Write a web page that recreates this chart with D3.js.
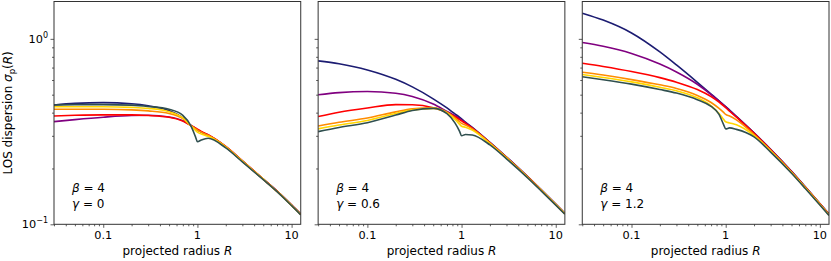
<!DOCTYPE html>
<html>
<head>
<meta charset="utf-8">
<script src="https://cdn.jsdelivr.net/npm/d3@7"></script>
<style>
body{margin:0;background:#fff}
svg{display:block}
text{font-family:"DejaVu Sans",sans-serif}
</style>
</head>
<body>
<svg width="831" height="261"></svg>
<script>
// sample radii shared by all curves
const radii = [0.03,0.05,0.1,0.2,0.3,0.5,0.7,0.85,0.95,1,1.1,1.3,2,3,5,7,10,12.5];

const gammaLabels = ['0','0.6','1.2'];
const betaLabel = '4';

// gamma = 0
const g0Navy   = [0.440,0.449,0.453,0.447,0.436,0.410,0.375,0.340,0.327,0.322,0.314,0.302,0.261,0.219,0.175,0.151,0.127,0.1135];
const g0Purple = [0.358,0.367,0.378,0.386,0.387,0.379,0.362,0.342,0.330,0.324,0.315,0.303,0.262,0.220,0.175,0.151,0.127,0.1135];
const g0Red    = [0.384,0.387,0.389,0.389,0.386,0.378,0.360,0.341,0.331,0.326,0.317,0.304,0.263,0.220,0.1755,0.151,0.127,0.1135];
const g0Orange = [0.417,0.417,0.417,0.414,0.409,0.396,0.371,0.341,0.328,0.322,0.314,0.302,0.262,0.219,0.175,0.1505,0.1265,0.113];
const g0Gold   = [0.430,0.430,0.430,0.427,0.422,0.405,0.375,0.340,0.322,0.314,0.307,0.298,0.261,0.219,0.175,0.1505,0.1265,0.113];
const g0Slate  = [0.440,0.442,0.442,0.439,0.432,0.417,0.387,0.340,0.298,0.279,0.285,0.291,0.258,0.217,0.174,0.150,0.126,0.1125];

// gamma = 0.6
const g1Navy   = [0.761,0.734,0.680,0.605,0.551,0.475,0.424,0.394,0.378,0.370,0.356,0.333,0.2765,0.2304,0.1813,0.1537,0.1285,0.1147];
const g1Purple = [0.499,0.513,0.520,0.509,0.489,0.445,0.406,0.385,0.372,0.366,0.353,0.331,0.2755,0.2298,0.181,0.1534,0.1283,0.1145];
const g1Red    = [0.381,0.402,0.424,0.442,0.441,0.425,0.401,0.380,0.367,0.361,0.350,0.330,0.275,0.2293,0.1806,0.1531,0.128,0.1143];
const g1Orange = [0.339,0.355,0.374,0.404,0.419,0.425,0.402,0.375,0.358,0.350,0.343,0.327,0.274,0.2288,0.1803,0.1528,0.1278,0.1141];
const g1Gold   = [0.327,0.343,0.363,0.396,0.414,0.422,0.398,0.368,0.347,0.338,0.334,0.322,0.2725,0.228,0.180,0.1525,0.1276,0.1139];
const g1Slate  = [0.316,0.333,0.353,0.388,0.411,0.422,0.395,0.352,0.318,0.300,0.305,0.303,0.268,0.2255,0.1785,0.1515,0.1268,0.1133];

// gamma = 1.2
const g2Navy   = [1.376,1.262,1.076,0.850,0.723,0.583,0.504,0.4633,0.4411,0.4311,0.413,0.382,0.311,0.254,0.1931,0.1593,0.1295,0.1135];
const g2Purple = [0.955,0.912,0.834,0.731,0.663,0.569,0.5006,0.4613,0.4397,0.430,0.411,0.380,0.310,0.253,0.1925,0.1589,0.1292,0.1132];
const g2Red    = [0.739,0.710,0.667,0.618,0.584,0.533,0.488,0.4554,0.4347,0.425,0.407,0.378,0.309,0.2525,0.192,0.1585,0.129,0.113];
const g2Orange = [0.661,0.638,0.603,0.565,0.540,0.4955,0.4537,0.4215,0.401,0.391,0.384,0.366,0.305,0.250,0.191,0.158,0.1285,0.1127];
const g2Gold   = [0.642,0.619,0.586,0.548,0.525,0.481,0.435,0.396,0.368,0.357,0.352,0.344,0.301,0.248,0.190,0.1575,0.128,0.1124];
const g2Slate  = [0.624,0.602,0.570,0.533,0.510,0.470,0.432,0.392,0.345,0.327,0.331,0.325,0.296,0.245,0.1885,0.156,0.127,0.1115];

const colors = ['#1c1c72','#800080','#ff0000','#ff8c00','#ffd700','#2f4f4f'];
const panels = [
  [g0Navy,g0Purple,g0Red,g0Orange,g0Gold,g0Slate],
  [g1Navy,g1Purple,g1Red,g1Orange,g1Gold,g1Slate],
  [g2Navy,g2Purple,g2Red,g2Orange,g2Gold,g2Slate]
];

const xTicks = [0.1,1,10];
const xTickLabels = ['0.1','1','10'];
const xMinor = [0.03,0.04,0.05,0.06,0.07,0.08,0.09,0.2,0.3,0.4,0.5,0.6,0.7,0.8,0.9,2,3,4,5,6,7,8,9];
const yTicks = [0.1,1];
const yTickExp = ['\u22121','0'];
const yMinor = [0.2,0.3,0.4,0.5,0.6,0.7,0.8,0.9];

const svg = d3.select('svg');
const width = +svg.attr('width');
const height = +svg.attr('height');

const margin = {top:1.5,right:2,bottom:36.7,left:54};
const gap = 17.4;
const panelW = (width - margin.left - margin.right - 2*gap)/3;
const innerHeight = height - margin.top - margin.bottom;

const xScale = d3.scaleLog().domain([0.03,12.5]).range([0,panelW]);
const yScale = d3.scaleLog().domain([0.1,1.59]).range([innerHeight,0]);

const line = d3.line()
  .x(d => xScale(d[0]))
  .y(d => yScale(d[1]))
  .curve(d3.curveMonotoneX);

const labels = svg.append('g').attr('id','labels');

panels.forEach((series,i) => {
  const left = margin.left + i*(panelW+gap);
  const g = svg.append('g')
    .attr('transform',`translate(${left},${margin.top})`);

  const clipId = 'clip'+i;
  g.append('clipPath').attr('id',clipId)
    .append('rect').attr('width',panelW).attr('height',innerHeight);

  const lines = g.append('g').attr('clip-path',`url(#${clipId})`);
  series.forEach((vals,j) => {
    lines.append('path')
      .datum(radii.map((r,k) => [r,vals[k]]))
      .attr('fill','none')
      .attr('stroke',colors[j])
      .attr('stroke-width',1.6)
      .attr('d',line);
  });

  // x axis ticks (labels drawn separately)
  const xa = g.append('g').attr('transform',`translate(0,${innerHeight})`)
    .call(d3.axisBottom(xScale).tickValues(xTicks).tickSize(3.5));
  const xm = g.append('g').attr('transform',`translate(0,${innerHeight})`)
    .call(d3.axisBottom(xScale).tickValues(xMinor).tickSize(2));

  // y axis ticks
  const ya = g.append('g').call(d3.axisLeft(yScale).tickValues(yTicks).tickSize(3.5));
  const ym = g.append('g').call(d3.axisLeft(yScale).tickValues(yMinor).tickSize(2));
  [xa,xm,ya,ym].forEach(a => { a.select('.domain').remove(); a.selectAll('text').remove(); });
  g.selectAll('.tick line').attr('stroke','#333').attr('stroke-width',0.8);

  // frame
  g.append('rect').attr('width',panelW).attr('height',innerHeight)
    .attr('fill','none').attr('stroke','#333').attr('stroke-width',1);

  // x tick labels
  xTicks.forEach((t,k) => {
    labels.append('text')
      .attr('x',left + xScale(t)).attr('y',margin.top + innerHeight + 15)
      .attr('text-anchor','middle').attr('font-size',11.3)
      .text(xTickLabels[k]);
  });

  // x label
  const xl = labels.append('text').attr('x',left + panelW/2).attr('y',margin.top + innerHeight + 30.5)
    .attr('text-anchor','middle').attr('font-size',12);
  xl.append('tspan').text('projected radius ');
  xl.append('tspan').attr('font-style','italic').text('R');

  // annotation
  const a1 = labels.append('text').attr('x',left + 18).attr('y',margin.top + 190).attr('font-size',12);
  a1.append('tspan').attr('font-style','italic').text('\u03b2');
  a1.append('tspan').text(' = ' + betaLabel);
  const a2 = labels.append('text').attr('x',left + 18).attr('y',margin.top + 206).attr('font-size',12);
  a2.append('tspan').attr('font-style','italic').text('\u03b3');
  a2.append('tspan').text(' = ' + gammaLabels[i]);
});

// y tick labels and y label (left panel only)
yTicks.forEach((t,k) => {
  const tx = labels.append('text')
    .attr('x',margin.left - 6).attr('y',margin.top + yScale(t) + 4)
    .attr('text-anchor','end').attr('font-size',11.3);
  tx.append('tspan').text('10');
  tx.append('tspan').attr('dy',-5).attr('font-size',8).text(yTickExp[k]);
});
const yl = labels.append('text')
  .attr('transform',`translate(${margin.left - 42},${margin.top + innerHeight/2}) rotate(-90)`)
  .attr('text-anchor','middle').attr('font-size',12);
yl.append('tspan').text('LOS dispersion ');
yl.append('tspan').attr('font-style','italic').text('\u03c3');
yl.append('tspan').attr('font-size',8.5).attr('dy',3).text('p');
yl.append('tspan').attr('dy',-3).text('(');
yl.append('tspan').attr('font-style','italic').text('R');
yl.append('tspan').text(')');
</script>
</body>
</html>
